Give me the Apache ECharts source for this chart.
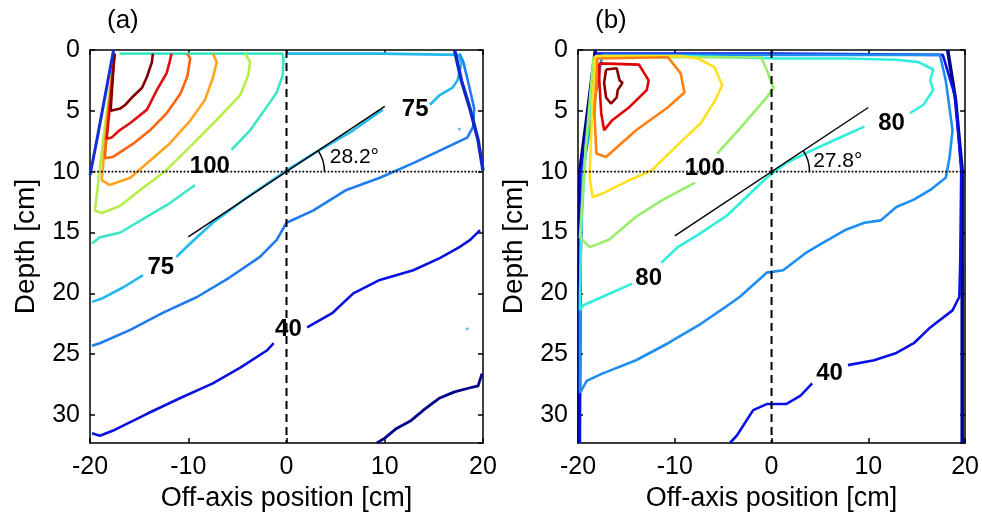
<!DOCTYPE html>
<html>
<head>
<meta charset="utf-8">
<script src="https://cdn.jsdelivr.net/npm/echarts@6/dist/echarts.min.js"></script>
<style>
  html, body { margin: 0; padding: 0; background: #fff; }
  #chart { width: 982px; height: 522px; }
</style>
</head>
<body>
<div id="chart"></div>
<script>
// panel (a) isodose lines, [off-axis cm, depth cm]
var aBoundL = [[-17.6, 0], [-18.4, 3.5], [-19.3, 7.4], [-20, 10.3]];
var aBoundR = [[17.1, 0], [17.8, 2.5], [18.7, 4.9], [19.5, 7.4], [20, 9.9]];
var aNavy = [[9.2, 32.3], [10.0, 31.9], [11.2, 31.1], [12.6, 30.5], [14.1, 29.5], [15.6, 28.6], [17.1, 28.1], [18.5, 27.8], [19.5, 27.6], [19.9, 26.6]];
var a40 = [[-19.8, 31.5], [-19.0, 31.7], [-17.7, 31.3], [-14.2, 29.9], [-10.8, 28.6], [-7.5, 27.4], [-4.7, 26.1], [-2.0, 24.7], [-1.3, 24.1], null,
  [2.1, 22.8], [4.7, 21.6], [6.8, 20.0], [9.5, 18.9], [12.9, 18.1], [15.6, 17.1], [17.6, 16.2], [18.7, 15.6], [19.7, 14.8]];
var a60 = [[-19.8, 24.3], [-19.0, 24.1], [-15.9, 23.0], [-12.6, 21.6], [-9.1, 20.3], [-5.8, 18.7], [-2.7, 17.0], [-1.0, 15.6], [0.0, 14.2],
  [2.7, 13.2], [6.1, 11.5], [9.5, 10.5], [12.9, 9.3], [16.3, 8.0], [18.4, 7.2], [19.0, 6.3], [19.1, 4.8], [18.6, 3.0], [18.0, 1.0], [17.6, 0.3]];
var a75 = [[-19.8, 20.7], [-18.7, 20.4], [-16.6, 19.5], [-14.6, 18.5], null, [-11.2, 17.0], [-9.8, 15.9], [-7.5, 14.2], [-4.0, 12.1],
  [0.0, 9.9], [3.4, 8.2], [6.8, 6.6], [9.8, 4.9], null, [14.6, 4.5], [15.6, 3.7], [16.9, 3.1], [17.4, 2.5], [17.8, 1.1], [17.5, 0.4],
  [9.5, 0.3], [0.0, 0.3]];
var a100 = [[-19.8, 15.9], [-19.0, 15.4], [-16.9, 15.0], [-14.2, 13.7], [-11.9, 12.6], [-9.3, 11.1], null, [-5.6, 8.2], [-3.7, 6.6],
  [-2.2, 4.9], [-1.0, 3.5], [-0.4, 2.1], [-0.3, 0.8], [-0.4, 0.3], [-9.0, 0.3], [-17.0, 0.3]];
var aYg = [[-17.5, 0.3], [-18.6, 7.0], [-19.5, 13.2], [-18.8, 13.4], [-16.9, 12.8], [-14.9, 11.5], [-12.4, 10.0], [-9.5, 7.7],
  [-7.3, 5.9], [-4.7, 3.7], [-3.9, 2.1], [-3.7, 1.0], [-4.2, 0.3]];
var aOrange = [[-17.5, 0.3], [-18.3, 6.0], [-18.8, 10.7], [-18.0, 11.1], [-15.9, 10.5], [-14.2, 9.3], [-11.9, 7.7], [-9.8, 5.8],
  [-8.3, 4.1], [-7.5, 2.3], [-7.1, 1.0], [-7.5, 0.3]];
var aOrRed = [[-17.5, 0.3], [-18.1, 5.0], [-18.5, 8.9], [-17.7, 8.8], [-15.6, 7.7], [-13.9, 6.6], [-12.2, 5.2], [-10.8, 3.6],
  [-10.1, 2.2], [-9.8, 0.7], [-10.1, 0.3]];
var aRed = [[-17.5, 0.3], [-17.9, 4.0], [-18.3, 7.3], [-17.8, 7.2], [-17.0, 6.6], [-15.9, 6.0], [-14.2, 4.9], [-13.2, 3.3],
  [-12.2, 1.9], [-11.9, 1.0], [-11.7, 0.3]];
var aDark = [[-17.5, 0.3], [-17.7, 2.5], [-17.9, 5.0], [-16.9, 4.8], [-16.4, 4.5], [-15.6, 3.8], [-14.7, 3.1], [-14.2, 2.2],
  [-13.7, 1.0], [-13.6, 0.3]];
var aDots = [[17.6, 6.5], [18.4, 22.9]];

// panel (b) isodose lines
var bBoundL = [[-18.2, 0], [-19.0, 5.0], [-19.8, 9.9], [-19.9, 20], [-19.9, 32.3]];
var bBoundR = [[18.2, 0], [19.0, 4.0], [19.7, 9.9], [19.7, 20], [19.7, 32.3]];
var b40 = [[-4.3, 32.3], [-3.6, 31.7], [-1.9, 29.6], [-0.5, 29.1], [1.5, 29.1], [3.0, 28.4], [4.2, 27.4], null,
  [7.9, 25.9], [10.6, 25.5], [12.9, 24.9], [14.7, 24.1], [16.4, 22.8], [18.7, 21.4], [19.4, 20.3], [19.5, 17.3], [19.6, 9.9],
  [19.0, 3.9], [17.7, 0.4], [0, 0.3], [-18.0, 0.3], [-19.7, 10], [-19.8, 32.3]];
var b60 = [[-19.8, 28.2], [-19.1, 27.2], [-17.5, 26.6], [-14.0, 25.5], [-10.7, 24.1], [-7.3, 22.5], [-4.9, 21.2], [-3.3, 20.3],
  [-0.5, 18.3], [1.2, 18.1], [3.5, 16.7], [5.2, 15.9], [7.6, 14.8], [9.6, 14.2], [11.3, 14.0], [12.9, 12.9], [14.7, 12.3],
  [16.4, 11.5], [18.0, 10.5], [18.4, 8.8], [18.7, 6.6], [18.0, 2.5], [17.4, 0.4], [0, 0.4], [-17.5, 0.4], [-19.5, 10],
  [-19.8, 20], [-19.8, 28.2]];
var b80 = [[-19.8, 21.4], [-19.5, 21.0], [-17.8, 20.4], [-14.4, 19.2], null, [-11.4, 17.5], [-9.7, 16.2], [-7.6, 15.2],
  [-4.6, 13.6], [-0.5, 10.5], [1.5, 9.3], [3.5, 8.5], [6.5, 7.4], [9.6, 6.3], null, [14.3, 5.2], [15.7, 4.5], [16.7, 3.3],
  [16.4, 2.5], [16.7, 1.6], [15.2, 1.0], [12.9, 0.8], [7.6, 0.7], [0.5, 0.7], [-9.0, 0.5], [-18.0, 0.5], [-19.2, 8.0],
  [-19.7, 15.0], [-19.8, 21.4]];
var b100 = [[-18.4, 0.6], [-19.2, 8.0], [-19.8, 15.4], [-18.8, 16.2], [-16.8, 15.6], [-14.0, 13.7], [-11.2, 12.3], [-7.9, 10.9], null,
  [-5.6, 8.5], [-3.1, 6.3], [-0.5, 3.9], [0.2, 3.1], [-0.1, 2.5], [-0.5, 1.6], [-1.1, 0.6], [-9.0, 0.6], [-18.4, 0.6]];
var bYellow = [[-9.4, 0.5], [-18.2, 0.5], [-18.5, 4.1], [-18.8, 10.5], [-18.5, 12.1], [-17.5, 11.8], [-14.7, 10.7], [-12.4, 9.9],
  [-9.7, 7.8], [-7.3, 6.0], [-5.8, 4.1], [-5.1, 2.9], [-5.9, 1.4], [-7.6, 0.7], [-9.4, 0.5]];
var bOrange = [[-18.0, 0.7], [-10.7, 0.6], [-9.4, 1.9], [-9.0, 3.5], [-10.7, 4.7], [-14.0, 6.6], [-17.1, 8.8], [-18.1, 8.5],
  [-18.3, 5.2], [-18.1, 2.5], [-18.0, 0.7]];
var bRed = [[-17.8, 1.1], [-13.7, 1.2], [-12.7, 2.5], [-12.9, 3.3], [-14.7, 4.7], [-16.5, 5.8], [-17.3, 6.6], [-17.6, 5.2],
  [-17.8, 2.5], [-17.8, 1.1]];
var bDark = [[-17.1, 1.6], [-16.0, 1.5], [-15.7, 2.5], [-15.4, 2.7], [-15.9, 3.3], [-16.0, 3.9], [-16.6, 4.4], [-17.1, 3.9],
  [-17.3, 2.7], [-17.1, 1.6]];

// contour labels and beam angles
var aLabels = [[-7.8, 9.6, '100'], [13.1, 4.9, '75'], [-12.8, 17.9, '75'], [0.2, 23.0, '40']];
var bLabels = [[-6.9, 9.7, '100'], [12.4, 6.0, '80'], [-12.7, 18.8, '80'], [6.0, 26.6, '40']];
var angleA = 28.2, angleB = 27.8;
var depthMax = 32.3;

var FONT = 'Liberation Sans, Arial, sans-serif';
var chart = echarts.init(document.getElementById('chart'));

function line(data, color, width, idx) {
  return {
    type: 'line', xAxisIndex: idx, yAxisIndex: idx, data: data,
    symbol: 'none', showSymbol: false, silent: true, connectNulls: false,
    lineStyle: { color: color, width: width }, z: 3
  };
}
function refLine(data, type, width, idx) {
  return {
    type: 'line', xAxisIndex: idx, yAxisIndex: idx, data: data, symbol: 'none', silent: true,
    lineStyle: { color: '#000', width: width, type: type }, z: 4
  };
}
function labels(data, idx, bold, size, align) {
  return {
    type: 'scatter', xAxisIndex: idx, yAxisIndex: idx, data: data, symbolSize: 0, silent: true, z: 6,
    label: {
      show: true, position: 'inside', align: align || 'center', formatter: function (p) { return p.data[2]; },
      color: '#000', opacity: 1, textBorderWidth: 0, fontSize: size, fontWeight: bold ? 'bold' : 'normal', fontFamily: FONT
    }
  };
}
function beam(angle) {
  var t = Math.tan(angle * Math.PI / 180) * 10;
  return [[-10, 10 + t], [10, 10 - t]];
}

function xAx(idx, pos) {
  return {
    type: 'value', gridIndex: idx, position: pos, min: -20, max: 20, interval: 10,
    axisLine: { show: true, onZero: false, lineStyle: { color: '#000', width: 1.5 } },
    axisTick: { show: true, inside: true, length: 5, lineStyle: { color: '#000', width: 1.5 } },
    axisLabel: { show: pos === 'bottom', margin: 12, color: '#000', fontSize: 25, fontFamily: FONT },
    splitLine: { show: false },
    name: pos === 'bottom' ? 'Off-axis position [cm]' : '', nameLocation: 'middle', nameGap: 42,
    nameTextStyle: { color: '#000', fontSize: 27, fontFamily: FONT }
  };
}
function yAx(idx, pos) {
  return {
    type: 'value', gridIndex: idx, position: pos, inverse: true, min: 0, max: depthMax, interval: 5,
    axisLine: { show: true, onZero: false, lineStyle: { color: '#000', width: 1.5 } },
    axisTick: { show: true, inside: true, length: 5, lineStyle: { color: '#000', width: 1.5 } },
    axisLabel: {
      show: pos === 'left', margin: 10, color: '#000', fontSize: 25, fontFamily: FONT, showMaxLabel: false,
      formatter: function (v) { return v % 5 === 0 ? v : ''; }
    },
    splitLine: { show: false },
    name: pos === 'left' ? 'Depth [cm]' : '', nameLocation: 'middle', nameGap: 50,
    nameTextStyle: { color: '#000', fontSize: 28, fontFamily: FONT }
  };
}

var W = 2.6;
var series = [
  // panel (a)
  line(aNavy, '#00008a', 2.8, 0),
  line(a40, '#0a10dd', W, 0),
  line(a60, '#1e7cf0', W, 0),
  line(a75, '#22b8f0', W, 0),
  line(a100, '#3ee6c6', W, 0),
  line(aYg, '#b8ee48', W, 0),
  line(aOrange, '#ffa41e', W, 0),
  line(aOrRed, '#ff6410', W, 0),
  line(aRed, '#e01010', W, 0),
  line(aDark, '#800000', W, 0),
  line(aBoundL, '#1030d8', 3, 0),
  line(aBoundR, '#1028c8', 3.5, 0),
  { type: 'scatter', xAxisIndex: 0, yAxisIndex: 0, data: aDots, symbolSize: 3, itemStyle: { color: '#22b8f0' }, silent: true },
  refLine([[-20, 10], [20, 10]], 'dotted', 1.8, 0),
  refLine([[0, 0], [0, depthMax]], [8, 5], 2, 0),
  refLine(beam(angleA), 'solid', 1.4, 0),
  labels(aLabels, 0, true, 24),
  labels([[4.4, 8.8, angleA + '°']], 0, false, 21, 'left'),
  // panel (b)
  line(bBoundL, '#00008a', 3.5, 2),
  line(bBoundR, '#00008a', 3.5, 2),
  line(b40, '#0a10e6', W, 2),
  line(b60, '#1e8ef4', W, 2),
  line(b80, '#30eedc', W, 2),
  line(b100, '#98ee6c', W, 2),
  line(bYellow, '#ffe01e', W, 2),
  line(bOrange, '#ff8010', W, 2),
  line(bRed, '#e00000', W, 2),
  line(bDark, '#8a0000', W, 2),
  refLine([[-20, 10], [20, 10]], 'dotted', 1.8, 2),
  refLine([[0, 0], [0, depthMax]], [8, 5], 2, 2),
  refLine(beam(angleB), 'solid', 1.4, 2),
  labels(bLabels, 2, true, 24),
  labels([[4.3, 9.1, angleB + '°']], 2, false, 21, 'left')
];

var option = {
  animation: false,
  backgroundColor: '#fff',
  title: [
    { text: '(a)', left: 102, top: 3, textStyle: { fontSize: 26, fontWeight: 'normal', color: '#000', fontFamily: FONT } },
    { text: '(b)', left: 590, top: 3, textStyle: { fontSize: 26, fontWeight: 'normal', color: '#000', fontFamily: FONT } }
  ],
  grid: [
    { left: 90, top: 50, width: 393, height: 393 },
    { left: 578, top: 50, width: 395, height: 393 }
  ],
  xAxis: [xAx(0, 'bottom'), xAx(0, 'top'), xAx(1, 'bottom'), xAx(1, 'top')],
  yAxis: [yAx(0, 'left'), yAx(0, 'right'), yAx(1, 'left'), yAx(1, 'right')],
  series: series
};
chart.setOption(option);

// small angle arcs between the beam line and the horizontal
function arc(idx, angle) {
  var t = Math.tan(angle * Math.PI / 180) * 10;
  var c = chart.convertToPixel({ xAxisIndex: idx, yAxisIndex: idx }, [0, 10]);
  var e = chart.convertToPixel({ xAxisIndex: idx, yAxisIndex: idx }, [10, 10 - t]);
  var phi = Math.atan2(c[1] - e[1], e[0] - c[0]);
  return {
    type: 'arc', z: 10, silent: true,
    shape: { cx: c[0], cy: c[1], r: 38, startAngle: -phi, endAngle: 0, clockwise: true },
    style: { stroke: '#000', lineWidth: 1.5, fill: null }
  };
}
chart.setOption({ graphic: [arc(0, angleA), arc(2, angleB)] });
</script>
</body>
</html>
